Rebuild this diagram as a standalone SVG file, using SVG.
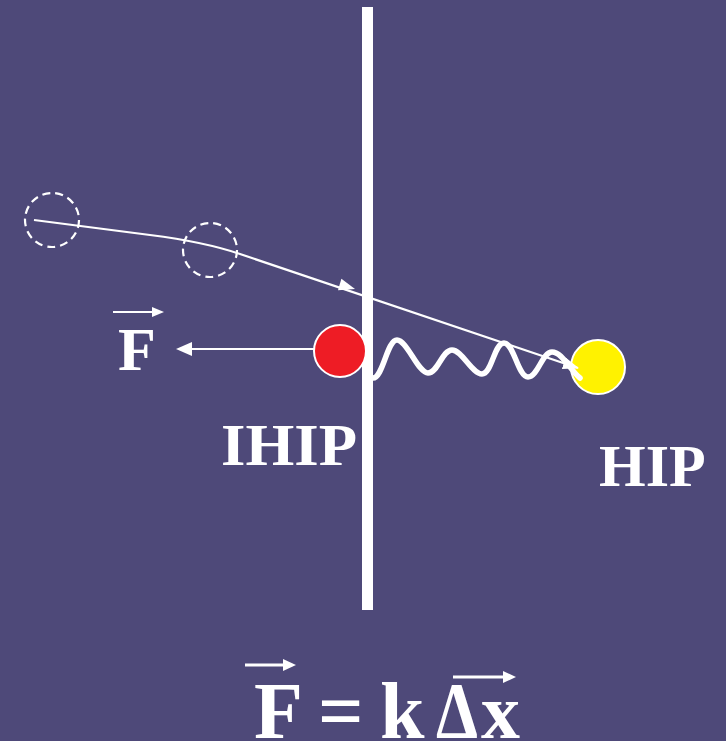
<svg xmlns="http://www.w3.org/2000/svg" width="726" height="741" viewBox="0 0 726 741">
<defs>
<style>
.bg{fill:#4e4979}
.ln{stroke:#fff;fill:none;stroke-width:2.2}
.hd{fill:#fff}
.dash{fill:none;stroke:#fff;stroke-width:2.2;stroke-dasharray:8 5}
.ball{stroke:#fff;stroke-width:2}
.t{font-family:"Liberation Serif","Times New Roman",serif;font-weight:bold;fill:#fff}
</style>
<marker id="ah" viewBox="0 0 16 12" refX="15" refY="6" markerWidth="16" markerHeight="12" markerUnits="userSpaceOnUse" orient="auto">
<path d="M0,0 L16,6 L0,12 Z" fill="#fff"/>
</marker>
</defs>
<rect class="bg" x="0" y="0" width="726" height="741"/>
<g id="wall"><rect x="362" y="7" width="11" height="603" fill="#fff"/></g>
<g id="ghost1"><circle class="dash" cx="52" cy="220" r="27"/></g>
<g id="ghost2"><circle class="dash" cx="210" cy="250" r="27"/></g>
<g id="ihip-ball"><circle class="ball" cx="340" cy="351" r="26" fill="#ee1c25"/></g>
<g id="hip-ball"><circle class="ball" cx="598" cy="367" r="27" fill="#fff200"/></g>
<g id="connectors">
<path class="ln" d="M34,220 L150,235 Q205,242 240,254 L578,368" marker-end="url(#ah)"/>
<polygon class="hd" points="355,289 341.4,278.7 338,290.2"/>
<path d="M373,378 C383,378 387,340 397,340 C407,340 418,373 428,373 C438,373 442,350 452,350 C462,350 472,374 482,374 C492,374 494,343 504,343 C514,343 518,377 528,377 C538,377 542,352 552,352 C562,352 570,370 580,378" fill="none" stroke="#fff" stroke-width="5.5" stroke-linecap="round" stroke-linejoin="round"/>
<line class="ln" x1="314" y1="349" x2="190" y2="349"/>
<polygon class="hd" points="176,349 192,342 192,356"/>
</g>
<g id="f-label">
<line class="ln" x1="113" y1="312" x2="153" y2="312"/>
<polygon class="hd" points="164,312 152,307 152,317"/>
<text class="t" x="118" y="370" font-size="62">F</text>
</g>
<g id="ihip-label"><text class="t" x="221" y="465" font-size="60" textLength="136" lengthAdjust="spacingAndGlyphs">IHIP</text></g>
<g id="hip-label"><text class="t" x="599" y="486" font-size="60">HIP</text></g>
<g id="formula">
<line x1="245" y1="665" x2="285" y2="665" stroke="#fff" stroke-width="3"/>
<polygon class="hd" points="296,665 283,659 283,671"/>
<line x1="453" y1="677" x2="504" y2="677" stroke="#fff" stroke-width="3"/>
<polygon class="hd" points="516,677 503,671 503,683"/>
<text class="t" y="738" font-size="80"><tspan x="254">F</tspan><tspan x="318">=</tspan><tspan x="380">k</tspan></text>
<text class="t" x="436" y="738" font-size="80" textLength="42" lengthAdjust="spacingAndGlyphs">Δ</text>
<text class="t" x="481" y="738" font-size="78">x</text>
</g>
</svg>
